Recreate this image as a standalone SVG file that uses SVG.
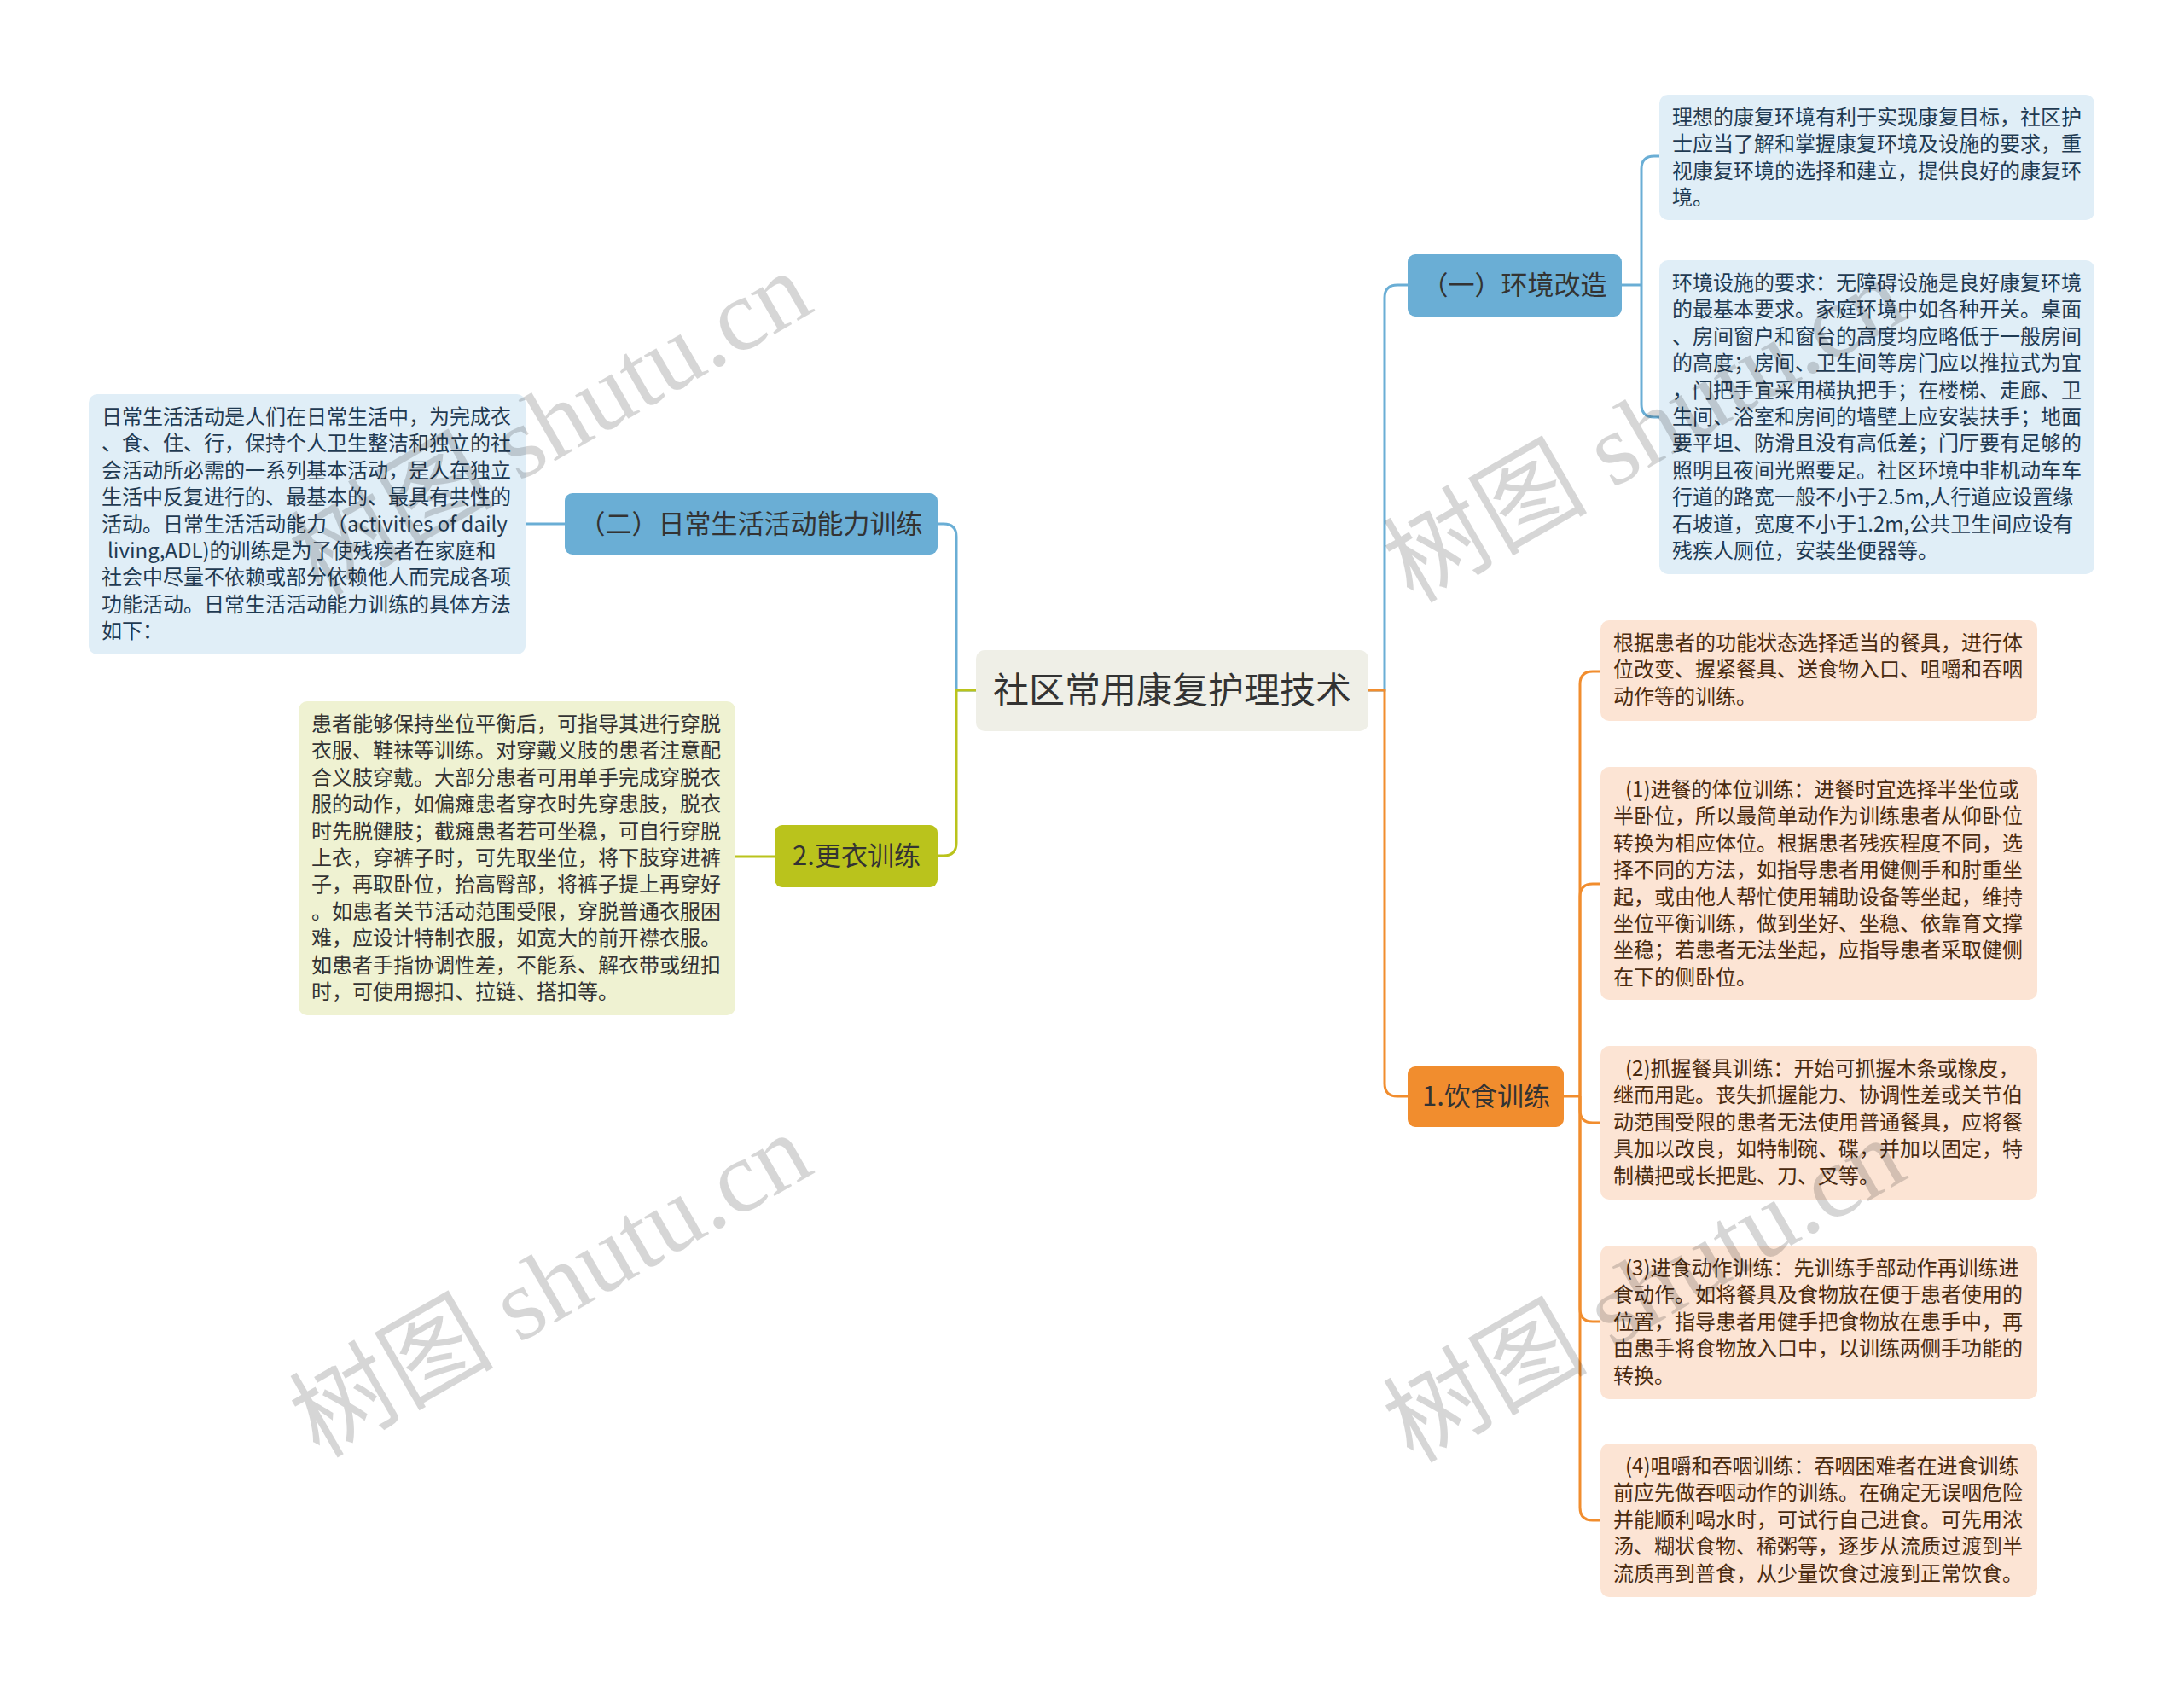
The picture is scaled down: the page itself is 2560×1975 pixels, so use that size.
<svg xmlns="http://www.w3.org/2000/svg" width="2560" height="1975" viewBox="0 0 2560 1975">
<style>
.t{font-family:"Noto Sans CJK SC","Liberation Sans",sans-serif;font-size:24px}
.tb{fill:#1f3a52}
.tg{fill:#333333}
.to{fill:#4a2b10}
.nt{font-family:"Noto Sans CJK SC","Liberation Sans",sans-serif;font-size:31px;fill:#333333;text-anchor:middle}
.ct{font-family:"Noto Sans CJK SC","Liberation Sans",sans-serif;font-size:42px;fill:#333333;text-anchor:middle}
.lb{fill:#e0eef7}
.lg{fill:#eff2d2}
.lo{fill:#fce4d4}
.nb{fill:#6aaed5}
.ng{fill:#bac31c}
.no{fill:#f18d2e}
.cb{fill:none;stroke:#6aaed5;stroke-width:3}
.cg{fill:none;stroke:#bac31c;stroke-width:3}
.co{fill:none;stroke:#f18d2e;stroke-width:3}
.wm{font-family:"Liberation Serif","Noto Sans CJK SC",serif;font-size:120px;fill:#000;fill-opacity:0.16}
</style>
<rect width="2560" height="1975" fill="#ffffff"/>
<g id="connectors">
<path class="cb" d="M1144,809 H1121 V629 Q1121,614 1106,614 H1099"/>
<path class="cg" d="M1144,809 H1121 V988 Q1121,1003 1106,1003 H1099"/>
<path class="cb" d="M1604,809 H1623 V349 Q1623,334 1638,334 H1650"/>
<path class="co" d="M1604,809 H1623 V1270 Q1623,1285 1638,1285 H1650"/>
<path class="cb" d="M1901,334 H1924"/>
<path class="cb" d="M1945,183 H1939 Q1924,183 1924,198 V474 Q1924,489 1939,489 H1945"/>
<path class="cb" d="M662,614 H615"/>
<path class="cg" d="M908,1004 H861"/>
<path class="co" d="M1833,1285 H1852"/>
<path class="co" d="M1852,1285 V802 Q1852,787 1867,787 H1876"/>
<path class="co" d="M1852,1285 V1051 Q1852,1036 1867,1036 H1876"/>
<path class="co" d="M1852,1285 V1301 Q1852,1316 1867,1316 H1876"/>
<path class="co" d="M1852,1285 V1534 Q1852,1549 1867,1549 H1876"/>
<path class="co" d="M1852,1285 V1767 Q1852,1782 1867,1782 H1876"/>
</g>
<g id="root">
<rect x="1144" y="762" width="460" height="95" rx="10" fill="#efefe7"/>
<text class="ct" x="1374" y="824">社区常用康复护理技术</text>
</g>
<g id="n-env">
<rect class="nb" x="1650" y="298" width="251" height="73" rx="9"/>
<text class="nt" x="1775" y="345">（一）环境改造</text>
</g>
<g id="n-adl">
<rect class="nb" x="662" y="578" width="437" height="72" rx="9"/>
<text class="nt" x="880" y="625">（二）日常生活活动能力训练</text>
</g>
<g id="n-dress">
<rect class="ng" x="908" y="967" width="191" height="73" rx="9"/>
<text class="nt" x="1004" y="1014">2.更衣训练</text>
</g>
<g id="n-eat">
<rect class="no" x="1650" y="1250" width="183" height="71" rx="9"/>
<text class="nt" x="1742" y="1296">1.饮食训练</text>
</g>
<g id="box-env1">
<rect class="lb" x="1945" y="111" width="510" height="147" rx="10"/>
<text class="t tb" x="1960" y="146">理想的康复环境有利于实现康复目标，社区护<tspan x="1960" dy="31.4">士应当了解和掌握康复环境及设施的要求，重</tspan><tspan x="1960" dy="31.4">视康复环境的选择和建立，提供良好的康复环</tspan><tspan x="1960" dy="31.4">境。</tspan></text>
</g>
<g id="box-env2">
<rect class="lb" x="1945" y="305" width="510" height="368" rx="10"/>
<text class="t tb" x="1960" y="340">环境设施的要求：无障碍设施是良好康复环境<tspan x="1960" dy="31.4">的最基本要求。家庭环境中如各种开关。桌面</tspan><tspan x="1960" dy="31.4">、房间窗户和窗台的高度均应略低于一般房间</tspan><tspan x="1960" dy="31.4">的高度；房间、卫生间等房门应以推拉式为宜</tspan><tspan x="1960" dy="31.4">，门把手宜采用横执把手；在楼梯、走廊、卫</tspan><tspan x="1960" dy="31.4">生间、浴室和房间的墙壁上应安装扶手；地面</tspan><tspan x="1960" dy="31.4">要平坦、防滑且没有高低差；门厅要有足够的</tspan><tspan x="1960" dy="31.4">照明且夜间光照要足。社区环境中非机动车车</tspan><tspan x="1960" dy="31.4">行道的路宽一般不小于2.5m,人行道应设置缘</tspan><tspan x="1960" dy="31.4">石坡道，宽度不小于1.2m,公共卫生间应设有</tspan><tspan x="1960" dy="31.4">残疾人厕位，安装坐便器等。</tspan></text>
</g>
<g id="box-adl">
<rect class="lb" x="104" y="462" width="512" height="305" rx="10"/>
<text class="t tb" x="119" y="497">日常生活活动是人们在日常生活中，为完成衣<tspan x="119" dy="31.4">、食、住、行，保持个人卫生整洁和独立的社</tspan><tspan x="119" dy="31.4">会活动所必需的一系列基本活动，是人在独立</tspan><tspan x="119" dy="31.4">生活中反复进行的、最基本的、最具有共性的</tspan><tspan x="119" dy="31.4">活动。日常生活活动能力（activities of daily</tspan><tspan x="126" dy="31.4">living,ADL)的训练是为了使残疾者在家庭和</tspan><tspan x="119" dy="31.4">社会中尽量不依赖或部分依赖他人而完成各项</tspan><tspan x="119" dy="31.4">功能活动。日常生活活动能力训练的具体方法</tspan><tspan x="119" dy="31.4">如下：</tspan></text>
</g>
<g id="box-dress">
<rect class="lg" x="350" y="822" width="512" height="368" rx="10"/>
<text class="t tg" x="365" y="857">患者能够保持坐位平衡后，可指导其进行穿脱<tspan x="365" dy="31.4">衣服、鞋袜等训练。对穿戴义肢的患者注意配</tspan><tspan x="365" dy="31.4">合义肢穿戴。大部分患者可用单手完成穿脱衣</tspan><tspan x="365" dy="31.4">服的动作，如偏瘫患者穿衣时先穿患肢，脱衣</tspan><tspan x="365" dy="31.4">时先脱健肢；截瘫患者若可坐稳，可自行穿脱</tspan><tspan x="365" dy="31.4">上衣，穿裤子时，可先取坐位，将下肢穿进裤</tspan><tspan x="365" dy="31.4">子，再取卧位，抬高臀部，将裤子提上再穿好</tspan><tspan x="365" dy="31.4">。如患者关节活动范围受限，穿脱普通衣服困</tspan><tspan x="365" dy="31.4">难，应设计特制衣服，如宽大的前开襟衣服。</tspan><tspan x="365" dy="31.4">如患者手指协调性差，不能系、解衣带或纽扣</tspan><tspan x="365" dy="31.4">时，可使用摁扣、拉链、搭扣等。</tspan></text>
</g>
<g id="box-eat0">
<rect class="lo" x="1876" y="727" width="512" height="118" rx="10"/>
<text class="t to" x="1891" y="762">根据患者的功能状态选择适当的餐具，进行体<tspan x="1891" dy="31.4">位改变、握紧餐具、送食物入口、咀嚼和吞咽</tspan><tspan x="1891" dy="31.4">动作等的训练。</tspan></text>
</g>
<g id="box-eat1">
<rect class="lo" x="1876" y="899" width="512" height="273" rx="10"/>
<text class="t to" x="1905" y="934">(1)进餐的体位训练：进餐时宜选择半坐位或<tspan x="1891" dy="31.4">半卧位，所以最简单动作为训练患者从仰卧位</tspan><tspan x="1891" dy="31.4">转换为相应体位。根据患者残疾程度不同，选</tspan><tspan x="1891" dy="31.4">择不同的方法，如指导患者用健侧手和肘重坐</tspan><tspan x="1891" dy="31.4">起，或由他人帮忙使用辅助设备等坐起，维持</tspan><tspan x="1891" dy="31.4">坐位平衡训练，做到坐好、坐稳、依靠育文撑</tspan><tspan x="1891" dy="31.4">坐稳；若患者无法坐起，应指导患者采取健侧</tspan><tspan x="1891" dy="31.4">在下的侧卧位。</tspan></text>
</g>
<g id="box-eat2">
<rect class="lo" x="1876" y="1226" width="512" height="180" rx="10"/>
<text class="t to" x="1905" y="1261">(2)抓握餐具训练：开始可抓握木条或橡皮，<tspan x="1891" dy="31.4">继而用匙。丧失抓握能力、协调性差或关节伯</tspan><tspan x="1891" dy="31.4">动范围受限的患者无法使用普通餐具，应将餐</tspan><tspan x="1891" dy="31.4">具加以改良，如特制碗、碟，并加以固定，特</tspan><tspan x="1891" dy="31.4">制横把或长把匙、刀、叉等。</tspan></text>
</g>
<g id="box-eat3">
<rect class="lo" x="1876" y="1460" width="512" height="180" rx="10"/>
<text class="t to" x="1905" y="1495">(3)进食动作训练：先训练手部动作再训练进<tspan x="1891" dy="31.4">食动作。如将餐具及食物放在便于患者使用的</tspan><tspan x="1891" dy="31.4">位置，指导患者用健手把食物放在患手中，再</tspan><tspan x="1891" dy="31.4">由患手将食物放入口中，以训练两侧手功能的</tspan><tspan x="1891" dy="31.4">转换。</tspan></text>
</g>
<g id="box-eat4">
<rect class="lo" x="1876" y="1692" width="512" height="180" rx="10"/>
<text class="t to" x="1905" y="1727">(4)咀嚼和吞咽训练：吞咽困难者在进食训练<tspan x="1891" dy="31.4">前应先做吞咽动作的训练。在确定无误咽危险</tspan><tspan x="1891" dy="31.4">并能顺利喝水时，可试行自己进食。可先用浓</tspan><tspan x="1891" dy="31.4">汤、糊状食物、稀粥等，逐步从流质过渡到半</tspan><tspan x="1891" dy="31.4">流质再到普食，从少量饮食过渡到正常饮食。</tspan></text>
</g>
<g id="watermarks">
<text class="wm" transform="translate(374,700) rotate(-30)">树图 shutu.cn</text>
<text class="wm" transform="translate(374,1710) rotate(-30)">树图 shutu.cn</text>
<text class="wm" transform="translate(1656,708) rotate(-30)">树图 shutu.cn</text>
<text class="wm" transform="translate(1656,1716) rotate(-30)">树图 shutu.cn</text>
</g>
</svg>
